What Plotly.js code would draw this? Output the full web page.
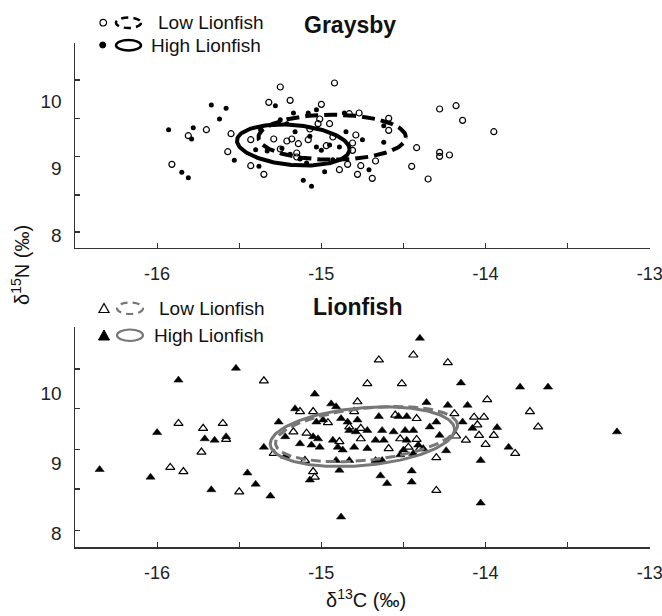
<!DOCTYPE html>
<html>
<head>
<meta charset="utf-8">
<script src="https://cdn.plot.ly/plotly-3.0.1.min.js"></script>
<style>html,body{margin:0;padding:0;background:#fff;}#chart{width:662px;height:616px;}</style>
</head>
<body>
<div id="chart"></div>
<script>
// ---------------- DATA ----------------
// Graysby, Low Lionfish (open circles)
const graysbyLowX = [-15.25,-14.92,-15.32,-15.19,-15.00,-14.28,-14.18,-14.14,-13.95,-15.81,-15.70,-15.55,-15.91,-15.57,-15.43,-15.35,-15.43,-15.29,-15.21,-15.18,-15.14,-15.08,-15.07,-15.01,-15.02,-14.95,-14.93,-14.97,-14.83,-14.77,-14.59,-14.59,-14.79,-14.81,-14.81,-14.42,-14.45,-14.28,-14.28,-14.22,-14.35,-14.69,-14.78,-14.76,-14.89,-14.84,-14.67,-15.15,-15.15,-15.25];
const graysbyLowY = [10.22,10.28,9.99,10.02,9.96,9.89,9.94,9.72,9.55,9.49,9.58,9.52,9.06,9.25,9.04,8.91,9.43,9.44,9.41,9.44,9.37,9.43,9.59,9.74,9.67,9.67,9.47,9.34,9.82,9.83,9.75,9.57,9.50,9.38,9.27,9.31,9.03,9.24,9.18,9.20,8.84,8.85,8.91,9.04,8.98,9.06,9.11,9.23,9.17,9.29];
// Graysby, High Lionfish (filled circles)
const graysbyHighX = [-15.67,-15.58,-15.62,-15.93,-15.78,-15.79,-15.85,-15.81,-15.53,-15.38,-15.28,-15.11,-15.06,-14.98,-14.71,-14.62,-14.75,-14.62,-15.17,-15.08,-15.25,-15.16,-15.40,-15.33,-15.24,-15.19,-15.13,-15.09,-15.03,-15.00,-14.95,-14.89,-14.85,-14.93,-15.21,-15.37,-15.03,-14.86,-15.07];
const graysbyHighY = [9.95,9.90,9.74,9.58,9.61,9.44,8.94,8.86,9.12,9.03,9.94,8.82,8.73,8.95,8.98,9.39,9.43,9.64,9.83,9.83,9.73,9.55,9.28,9.26,9.30,9.21,9.14,9.08,9.32,9.27,9.35,9.32,9.55,9.13,9.67,9.58,9.88,9.83,9.48];
// Lionfish, Low Lionfish (open triangles)
const lionLowX = [-14.65,-14.44,-14.23,-15.35,-14.72,-14.51,-15.13,-15.05,-14.78,-14.80,-14.55,-14.42,-14.19,-13.99,-13.73,-13.68,-14.07,-14.01,-14.05,-14.04,-14.12,-14.18,-14.00,-13.95,-13.82,-14.96,-15.09,-15.17,-15.29,-15.10,-15.05,-15.04,-14.89,-14.76,-14.59,-14.52,-14.42,-14.47,-14.40,-14.30,-14.30,-14.83,-14.76,-15.87,-15.72,-15.60,-15.58,-15.73,-15.92,-15.84,-15.50];
const lionLowY = [10.48,10.55,10.44,10.18,10.14,10.14,9.74,9.74,9.88,9.74,9.69,9.64,9.71,9.91,9.74,9.52,9.66,9.66,9.55,9.40,9.33,9.39,9.27,9.40,9.14,9.58,9.43,9.45,9.14,9.04,8.88,8.80,9.31,9.35,9.21,9.35,9.34,9.23,9.21,9.08,8.61,9.52,9.50,9.57,9.50,9.57,9.34,9.16,8.94,8.88,8.59];
// Lionfish, High Lionfish (filled triangles)
const lionHighX = [-14.40,-15.52,-15.87,-14.15,-13.79,-13.62,-15.04,-15.16,-14.94,-14.91,-14.36,-14.23,-14.11,-15.26,-15.03,-14.99,-14.88,-14.84,-14.78,-14.65,-14.53,-14.48,-14.30,-14.14,-14.08,-13.93,-14.83,-14.79,-14.72,-14.63,-14.56,-14.49,-14.44,-14.34,-14.28,-15.22,-15.13,-15.05,-15.02,-15.06,-15.01,-14.93,-14.90,-14.87,-14.80,-14.72,-14.67,-14.62,-14.48,-14.41,-14.38,-14.50,-14.44,-14.24,-15.35,-15.22,-14.91,-14.83,-14.67,-14.63,-14.52,-14.89,-14.03,-13.86,-16.00,-15.71,-15.65,-15.58,-16.35,-16.04,-15.67,-15.45,-15.40,-15.31,-15.07,-14.64,-14.60,-14.45,-14.45,-14.03,-14.88,-13.20];
const lionHighY = [10.79,10.36,10.19,10.15,10.09,10.09,9.99,9.78,9.85,9.81,9.87,9.83,9.83,9.59,9.59,9.62,9.64,9.59,9.62,9.67,9.67,9.67,9.59,9.59,9.50,9.51,9.47,9.45,9.47,9.47,9.45,9.47,9.47,9.52,9.40,9.38,9.28,9.38,9.35,9.26,9.23,9.33,9.23,9.19,9.23,9.21,9.33,9.33,9.33,9.26,9.21,9.19,9.14,9.18,9.23,9.10,9.04,9.04,9.04,9.04,9.12,8.90,9.04,9.23,9.44,9.35,9.33,9.38,8.91,8.80,8.62,8.86,8.70,8.53,8.76,8.82,8.71,8.89,8.73,8.43,8.23,9.45];

// Standard ellipses: [Graysby Low, Graysby High, Lionfish Low, Lionfish High]
const ellipseCx   = [-14.934, -15.171, -14.725, -14.750];
const ellipseCy   = [9.467, 9.350, 9.416, 9.380];
const ellipseRx   = [0.449, 0.344, 0.557, 0.563];
const ellipseRy   = [0.338, 0.300, 0.373, 0.413];
const ellipseTilt = [0, -5, 6, 5];

// Axis ticks / labels
const xTickVals = [-16, -15, -14, -13];
const xTickText = ['-16', '-15', '-14', '-13'];
const xMinorVals = [-15.5, -14.5, -13.5];
const yTickVals = [8, 9, 10];
const yTickText = ['8', '9', '10'];
const yMarkTop = [8.045, 8.60, 9.175, 9.75, 10.325, 10.88];
const yMarkBottom = [8.04, 8.63, 9.20, 9.78, 10.35, 10.955];

// ---------------- LAYOUT HELPERS ----------------
const W = 662, H = 616;
const M = {l: 75, r: 12, t: 43, b: 69};
const PW = W - M.l - M.r, PH = H - M.t - M.b;
const xp = px => (px - M.l) / PW;
const yp = py => (H - M.b - py) / PH;
const FONT = 'Liberation Sans, Arial, Helvetica, sans-serif';

function ellipse(i, kyPx) {
  const kx = 164.29, th = ellipseTilt[i] * Math.PI / 180;
  const xs = [], ys = [];
  for (let k = 0; k <= 160; k++) {
    const t = 2 * Math.PI * k / 160;
    const U = ellipseRx[i] * kx * Math.cos(t), V = ellipseRy[i] * kyPx * Math.sin(t);
    const X = U * Math.cos(th) - V * Math.sin(th);
    const Y = U * Math.sin(th) + V * Math.cos(th);
    xs.push(ellipseCx[i] + X / kx);
    ys.push(ellipseCy[i] + Y / kyPx);
  }
  return {xs, ys};
}

const eGL = ellipse(0, 66.65), eGH = ellipse(1, 66.65), eLL = ellipse(2, 69.7), eLH = ellipse(3, 69.7);
const GRAY = '#777777';

const traces = [
  {x: graysbyLowX, y: graysbyLowY, type: 'scatter', mode: 'markers', xaxis: 'x', yaxis: 'y', cliponaxis: false,
   marker: {symbol: 'circle-open', size: 6, color: '#000', line: {width: 1.2, color: '#000'}}, hoverinfo: 'skip'},
  {x: graysbyHighX, y: graysbyHighY, type: 'scatter', mode: 'markers', xaxis: 'x', yaxis: 'y',
   marker: {symbol: 'circle', size: 5, color: '#000'}, hoverinfo: 'skip'},
  {x: eGL.xs, y: eGL.ys, type: 'scatter', mode: 'lines', xaxis: 'x', yaxis: 'y',
   line: {color: '#000', width: 4, dash: '13px,6px'}, hoverinfo: 'skip'},
  {x: eGH.xs, y: eGH.ys, type: 'scatter', mode: 'lines', xaxis: 'x', yaxis: 'y',
   line: {color: '#000', width: 4}, hoverinfo: 'skip'},
  {x: lionLowX, y: lionLowY, type: 'scatter', mode: 'markers', xaxis: 'x2', yaxis: 'y2',
   marker: {symbol: 'triangle-up', size: 8, color: '#fff', line: {width: 1.2, color: '#000'}}, hoverinfo: 'skip'},
  {x: lionHighX, y: lionHighY, type: 'scatter', mode: 'markers', xaxis: 'x2', yaxis: 'y2',
   marker: {symbol: 'triangle-up', size: 8, color: '#000', line: {width: 0.5, color: '#000'}}, hoverinfo: 'skip'},
  {x: eLL.xs, y: eLL.ys, type: 'scatter', mode: 'lines', xaxis: 'x2', yaxis: 'y2',
   line: {color: GRAY, width: 3, dash: '10px,5px'}, hoverinfo: 'skip'},
  {x: eLH.xs, y: eLH.ys, type: 'scatter', mode: 'lines', xaxis: 'x2', yaxis: 'y2',
   line: {color: GRAY, width: 3}, hoverinfo: 'skip'}
];

function xAxis(anchor) {
  return {
    anchor: anchor, domain: [0, 1], range: [-16.5, -12.999],
    showline: true, linecolor: '#333', linewidth: 1.5, mirror: false,
    showgrid: false, zeroline: false,
    tickmode: 'array', tickvals: xTickVals, ticktext: xTickText,
    ticks: 'inside', ticklen: 5, tickwidth: 1.2, tickcolor: '#333',
    minor: {tickmode: 'array', tickvals: xMinorVals, ticks: 'inside', ticklen: 5, tickwidth: 1.2, tickcolor: '#333'},
    tickfont: {family: FONT, size: 18, color: '#222'},
    ticklabeloverflow: 'allow',
    ticklabelstandoff: 9
  };
}
function yAxis(anchor, domain, range, marks) {
  return {
    anchor: anchor, domain: domain, range: range,
    showline: true, linecolor: '#333', linewidth: 1.5,
    showgrid: false, zeroline: false,
    tickmode: 'array', tickvals: yTickVals, ticktext: yTickText,
    ticks: 'inside', ticklen: 0, tickcolor: '#333',
    minor: {tickmode: 'array', tickvals: marks, ticks: 'inside', ticklen: 5, tickwidth: 1.2, tickcolor: '#333'},
    tickfont: {family: FONT, size: 19, color: '#222'},
    ticklabelstandoff: 8
  };
}

const shapes = [
  // Graysby legend
  {type: 'circle', xref: 'paper', yref: 'paper', x0: xp(100), x1: xp(106.6), y0: yp(26), y1: yp(19.4),
   line: {color: '#000', width: 1.2}},
  {type: 'circle', xref: 'paper', yref: 'paper', x0: xp(116), x1: xp(141), y0: yp(28), y1: yp(17.5),
   line: {color: '#000', width: 2.5, dash: '7px,5px'}},
  {type: 'circle', xref: 'paper', yref: 'paper', x0: xp(99.7), x1: xp(105.7), y0: yp(48), y1: yp(42),
   fillcolor: '#000', line: {color: '#000', width: 1}},
  {type: 'circle', xref: 'paper', yref: 'paper', x0: xp(116), x1: xp(141), y0: yp(50.5), y1: yp(40),
   line: {color: '#000', width: 2.5}},
  // Lionfish legend
  {type: 'path', xref: 'paper', yref: 'paper',
   path: `M ${xp(99)} ${yp(312.5)} L ${xp(109)} ${yp(312.5)} L ${xp(104)} ${yp(303.5)} Z`,
   fillcolor: '#fff', line: {color: '#000', width: 1.2}},
  {type: 'circle', xref: 'paper', yref: 'paper', x0: xp(117), x1: xp(143), y0: yp(314), y1: yp(302.5),
   line: {color: GRAY, width: 2.2, dash: '7px,5px'}},
  {type: 'path', xref: 'paper', yref: 'paper',
   path: `M ${xp(98.5)} ${yp(340)} L ${xp(109.5)} ${yp(340)} L ${xp(104)} ${yp(330)} Z`,
   fillcolor: '#000', line: {color: '#000', width: 1}},
  {type: 'circle', xref: 'paper', yref: 'paper', x0: xp(117), x1: xp(143), y0: yp(341), y1: yp(329.5),
   line: {color: GRAY, width: 2.2}}
];

function ann(text, px, py, size, opts) {
  return Object.assign({text: text, xref: 'paper', yref: 'paper', x: xp(px), y: yp(py),
    showarrow: false, xanchor: 'left', yanchor: 'middle',
    font: {family: FONT, size: size, color: '#111'}}, opts || {});
}

const annotations = [
  ann('Low Lionfish', 155.5, 23, 19),
  ann('High Lionfish', 149, 45.5, 19),
  ann('<b>Graysby</b>', 350, 25, 23, {xanchor: 'center'}),
  ann('Low Lionfish', 157, 308.5, 19),
  ann('High Lionfish', 152, 335.5, 19),
  ann('<b>Lionfish</b>', 357, 307, 23, {xanchor: 'center'}),
  ann('δ<sup>15</sup>N (‰)', 20, 265, 20, {xanchor: 'center', textangle: -90}),
  ann('δ<sup>13</sup>C (‰)', 366, 598, 20, {xanchor: 'center'})
];

const layout = {
  width: W, height: H,
  margin: M,
  paper_bgcolor: '#fff', plot_bgcolor: '#fff',
  showlegend: false,
  font: {family: FONT, color: '#222'},
  xaxis: xAxis('y'),
  yaxis: yAxis('x', [yp(247.7), 1], [7.81, 10.88], yMarkTop),
  xaxis2: xAxis('y2'),
  yaxis2: yAxis('x2', [0, yp(326.7)], [7.80, 10.955], yMarkBottom),
  shapes: shapes,
  annotations: annotations
};

Plotly.newPlot('chart', traces, layout, {displayModeBar: false, staticPlot: true});
</script>
</body>
</html>
